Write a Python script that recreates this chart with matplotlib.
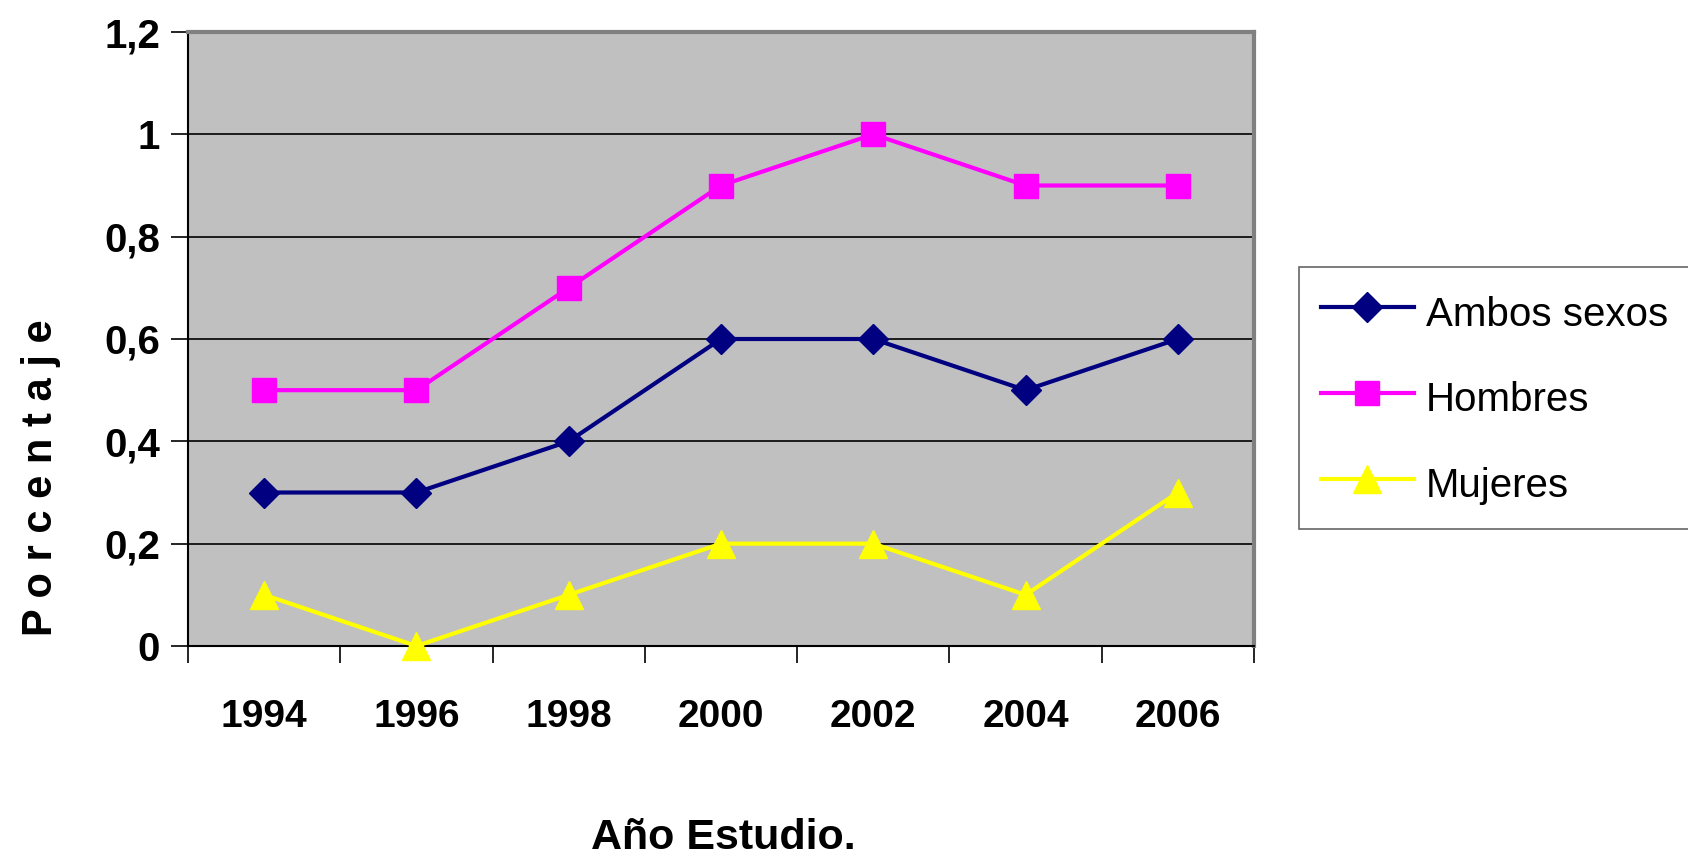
import matplotlib.pyplot as plt
from matplotlib import font_manager

# Series by survey year
anios = ['1994', '1996', '1998', '2000', '2002', '2004', '2006']
ambos = [0.3, 0.3, 0.4, 0.6, 0.6, 0.5, 0.6]
hombres = [0.5, 0.5, 0.7, 0.9, 1.0, 0.9, 0.9]
mujeres = [0.1, 0.0, 0.1, 0.2, 0.2, 0.1, 0.3]
yticks = [0, 0.2, 0.4, 0.6, 0.8, 1.0, 1.2]
ytick_labels = ['0', '0,2', '0,4', '0,6', '0,8', '1', '1,2']

familias = [f.name for f in font_manager.fontManager.ttflist]
fuente = 'Liberation Sans Narrow' if 'Liberation Sans Narrow' in familias else 'Liberation Sans'
plt.rcParams['font.family'] = [fuente, 'DejaVu Sans']

W, H = 1688, 867
fig = plt.figure(figsize=(W / 100, H / 100), dpi=100)
ax = fig.add_axes([188 / W, 1 - 646 / H, (1254 - 188) / W, (646 - 32) / H])
ax.set_facecolor('#C0C0C0')

x = list(range(len(anios)))
ax.plot(x, ambos, color='#000080', lw=3, marker='D', ms=15, label='Ambos sexos', clip_on=False, zorder=3)
ax.plot(x, hombres, color='#FF00FF', lw=3, marker='s', ms=17, label='Hombres', clip_on=False, zorder=3)
ax.plot(x, mujeres, color='#FFFF00', lw=3, marker='^', ms=20, label='Mujeres', clip_on=False, zorder=4)

ax.set_xlim(-0.5, len(anios) - 0.5)
ax.set_ylim(0, 1.2)
ax.set_yticks(yticks)
ax.set_yticklabels(ytick_labels, fontsize=29, fontweight='bold')
ax.set_xticks(x)
ax.set_xticklabels(anios, fontsize=28, fontweight='bold')
ax.tick_params(axis='x', length=0, pad=38)
ax.set_xticks([i - 0.5 for i in range(len(anios) + 1)], minor=True)
ax.tick_params(axis='x', which='minor', length=12, width=1.2, color='black')
ax.tick_params(axis='y', length=12, width=1.2, pad=8)
ax.yaxis.grid(True, color='black', lw=1.2)
ax.set_axisbelow(True)

for lado in ['top', 'right']:
    ax.spines[lado].set_color('#808080')
    ax.spines[lado].set_linewidth(3)
for lado in ['left', 'bottom']:
    ax.spines[lado].set_color('black')
    ax.spines[lado].set_linewidth(1.5)

fig.text(41 / W, 1 - 478 / H, 'P o r c e n t a j e', rotation=90, fontsize=30,
         fontweight='bold', ha='center', va='center')
fig.text(723 / W, 1 - 838 / H, 'Año Estudio.', fontsize=31, fontweight='bold',
         ha='center', va='center')

leg = fig.legend(loc='upper left', bbox_to_anchor=(1299 / W, 1 - 267 / H), fontsize=29,
                 frameon=True, fancybox=False, edgecolor='#404040', handlelength=2.3,
                 handleheight=1.4, handletextpad=0.3, labelspacing=0.97, borderpad=0.55,
                 borderaxespad=0)
leg.get_frame().set_linewidth(1.2)

fig.savefig('out.png', dpi=100)
